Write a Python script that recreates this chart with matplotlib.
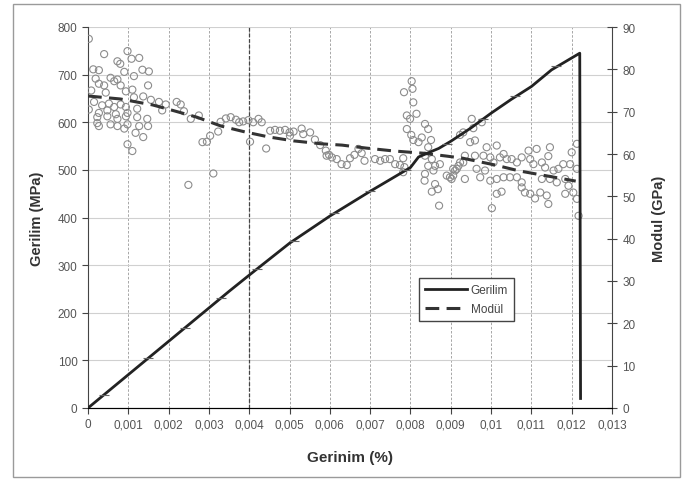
import numpy as np
import matplotlib.pyplot as plt
from matplotlib.ticker import FuncFormatter
from matplotlib.patches import Rectangle

plt.rcParams['font.family'] = ['Liberation Sans', 'DejaVu Sans']

# stress-strain curve (Gerilim, MPa)
strain = [0, 0.0005, 0.001, 0.0015, 0.002, 0.0025, 0.003, 0.0035, 0.004, 0.005,
          0.006, 0.007, 0.008, 0.0082, 0.0085, 0.0087, 0.009, 0.0095, 0.01,
          0.0105, 0.011, 0.0115, 0.0122, 0.01222]
stress = [0, 35, 70, 105, 140, 175, 210, 245, 279, 346,
          403, 455, 505, 527, 538, 545, 560, 588, 619,
          648, 675, 710, 745, 20]

# small bar marks sitting on the stress curve
mark_strain = [0.0004, 0.0015, 0.0024, 0.0033, 0.0042, 0.0051, 0.0061, 0.007,
               0.0079, 0.0089, 0.0098, 0.0106, 0.0116]
mark_stress = [28, 105, 168, 230, 292, 350, 410, 455, 500, 555, 607, 655, 718]

# fitted modulus line (Modül, GPa)
fit_strain = [0, 0.0008, 0.0016, 0.0021, 0.0027, 0.0033, 0.0039, 0.0045, 0.0051,
              0.0058, 0.0063, 0.0069, 0.0076, 0.0083, 0.0089, 0.0093, 0.0101,
              0.0107, 0.0114, 0.0121]
fit_mod = [73.7, 73.0, 71.6, 70.3, 68.7, 66.6, 65.2, 64.0, 63.1,
           62.4, 62.1, 61.4, 60.7, 60.2, 59.5, 59.0, 57.4,
           56.0, 54.8, 53.6]

# measured modulus points (GPa)
pt_strain = [
    0.00002, 0.0004, 0.00098, 0.00073, 0.0008, 0.00108, 0.00127, 0.00013, 0.00027,
    0.0009, 0.00135, 0.00151, 0.00114, 0.00019, 0.00056, 0.00065, 0.00073, 0.00027,
    0.0004, 0.00081, 0.00149, 0.00008, 0.00044, 0.00094, 0.0011, 0.00114, 0.00137,
    0.00156, 0.00176, 0.00193, 0.0022, 0.0023, 0.00015, 0.00035, 0.00052, 0.00065,
    0.00081, 0.00094, 0.00002, 0.00027, 0.00048, 0.00069, 0.00098, 0.00122, 0.00184,
    0.00238, 0.00023, 0.00048, 0.00073, 0.00094, 0.00122, 0.00147, 0.00255, 0.00275,
    0.00023, 0.00056, 0.00073, 0.00098, 0.00127, 0.00149, 0.00027, 0.0009, 0.00118,
    0.00137, 0.00098, 0.0011, 0.00249,
    0.00284, 0.00295, 0.00303, 0.00323, 0.00329, 0.00342, 0.00354, 0.00367, 0.00375,
    0.00385, 0.00398, 0.0041, 0.00423, 0.00431, 0.00402, 0.00311, 0.00442, 0.00452,
    0.00464, 0.00476, 0.00489, 0.005, 0.0051, 0.00501, 0.0053, 0.00534, 0.00551,
    0.00563, 0.00576, 0.0059, 0.00598,
    0.00592, 0.00605, 0.00617, 0.00629, 0.00642, 0.0065, 0.00661, 0.00671, 0.00679,
    0.00686, 0.00712, 0.00725, 0.00737, 0.00749, 0.00762, 0.00774, 0.00782, 0.00782,
    0.00785, 0.00784, 0.00803, 0.00805, 0.00807, 0.00791, 0.00799, 0.00815, 0.00791,
    0.00802, 0.00807, 0.0082, 0.00828, 0.00836, 0.00844, 0.00851, 0.00844, 0.00836,
    0.00853, 0.00861, 0.00844, 0.00836, 0.00857, 0.00835, 0.00861, 0.00853, 0.00868,
    0.00871, 0.00906, 0.00898, 0.00873, 0.0089, 0.00902, 0.00915, 0.00923,
    0.00952, 0.00977, 0.00956, 0.00931, 0.00923, 0.00948, 0.0096, 0.00989, 0.01014,
    0.00981, 0.0096, 0.00935, 0.00931, 0.00919, 0.00911, 0.00906, 0.00935, 0.00964,
    0.00985, 0.00973, 0.00998, 0.01006, 0.01022, 0.01031, 0.01039, 0.01051, 0.01064,
    0.01076, 0.01093, 0.01113, 0.01097, 0.01105, 0.01126, 0.01142, 0.01146, 0.01134,
    0.01155, 0.01167, 0.01179, 0.01196, 0.01213, 0.012, 0.01213,
    0.00998, 0.01014, 0.01031, 0.01047, 0.01064, 0.01076, 0.01014, 0.01026, 0.01002,
    0.01084, 0.01097, 0.01109, 0.01122, 0.01138, 0.01142, 0.01126, 0.01146, 0.01163,
    0.01184, 0.01192, 0.01204, 0.01213, 0.01217, 0.01184, 0.01076,
]
pt_mod = [
    87.2, 83.6, 84.3, 81.9, 81.3, 82.5, 82.7, 80.0, 79.8,
    79.4, 79.9, 79.5, 78.4, 77.8, 78.0, 77.2, 77.6, 76.6,
    76.2, 76.2, 76.2, 75.0, 74.5, 74.8, 75.2, 73.4, 73.6,
    72.8, 72.3, 71.7, 72.3, 71.7, 72.3, 71.5, 71.9, 71.1,
    71.7, 71.1, 70.5, 69.7, 70.3, 69.4, 69.7, 70.7, 70.3,
    70.1, 68.7, 68.9, 68.3, 68.9, 68.7, 68.3, 68.3, 69.1,
    67.3, 67.0, 66.6, 67.0, 66.6, 66.6, 66.6, 66.0, 65.0,
    64.0, 62.3, 60.7, 52.7,
    62.8, 62.9, 64.3, 65.3, 67.6, 68.4, 68.7, 68.1, 67.5,
    67.7, 68.0, 67.5, 68.3, 67.5, 62.9, 55.4, 61.3, 65.5,
    65.7, 65.5, 65.7, 65.1, 65.3, 64.3, 66.0, 64.7, 65.1,
    63.4, 62.1, 60.8, 59.8,
    59.6, 59.2, 58.8, 57.6, 57.4, 59.0, 59.8, 61.2, 60.2,
    58.4, 58.8, 58.4, 58.8, 58.8, 57.6, 57.4, 59.0, 55.7,
    56.9, 74.6, 77.2, 75.4, 72.2, 69.1, 68.3, 69.5, 65.9,
    64.5, 63.3, 62.8, 63.9, 67.1, 65.9, 63.3, 61.6, 59.6,
    58.8, 57.2, 57.2, 55.3, 56.1, 53.7, 52.9, 51.1, 51.7,
    47.8, 56.5, 54.5, 57.6, 54.9, 54.1, 56.5, 58.0,
    68.3, 67.5, 66.1, 65.1, 64.5, 62.8, 63.2, 61.6, 62.0,
    59.6, 59.6, 59.6, 58.0, 57.2, 56.1, 54.9, 54.1, 56.5,
    56.1, 54.5, 59.2, 58.0, 59.2, 60.0, 58.8, 58.8, 58.0,
    59.2, 60.8, 61.2, 58.8, 57.6, 58.0, 59.5, 61.6, 56.8,
    56.1, 56.5, 57.6, 57.6, 56.5, 60.4, 62.4,
    53.7, 54.1, 54.5, 54.5, 54.5, 53.3, 50.6, 51.1, 47.2,
    50.9, 50.6, 49.5, 50.9, 50.2, 48.2, 54.1, 54.1, 53.3,
    54.1, 52.5, 50.9, 49.4, 45.4, 50.6, 52.1,
]

x_ticks = np.arange(0, 14) / 1000
stress_ticks = np.arange(0, 801, 100)
mod_ticks = np.arange(0, 91, 10)

tick_color = '#555555'
label_color = '#333333'


def comma(v, pos):
    return f'{v:g}'.replace('.', ',')


fig = plt.figure(figsize=(6.84, 4.81), dpi=100)
ax = fig.add_axes([88 / 684, 72 / 481, 524 / 684, 381 / 481])
ax2 = ax.twinx()

# frame around the whole chart
fig.patches.append(Rectangle((13 / 684, 3 / 481), 667 / 684, 473 / 481,
                             transform=fig.transFigure, fill=False,
                             edgecolor='#9a9a9a', linewidth=1.0))

ax.set_xlim(0, 0.013)
ax.set_ylim(0, 800)
ax2.set_ylim(0, 90)
ax.set_xticks(x_ticks)
ax.set_yticks(stress_ticks)
ax2.set_yticks(mod_ticks)
ax.xaxis.set_major_formatter(FuncFormatter(comma))

ax.grid(axis='y', color='#d0d0d0', linewidth=0.8)
ax.grid(axis='x', color='#999999', linewidth=0.6, linestyle=(0, (3, 2)))
ax.axvline(0.004, color='#444444', linewidth=0.9, linestyle=(0, (3, 1.5)), zorder=1)
ax.set_axisbelow(True)

for a in (ax, ax2):
    a.spines['top'].set_visible(False)
ax.spines['right'].set_visible(False)
ax2.spines['left'].set_visible(False)
for s in ('left', 'bottom'):
    ax.spines[s].set_color('#444444')
ax2.spines['right'].set_color('#444444')

ax.tick_params(axis='both', direction='out', length=4, width=0.8, color='#444444',
               labelsize=8.5, labelcolor=tick_color)
ax2.tick_params(axis='y', direction='inout', length=7, width=0.8, color='#444444',
                labelsize=8.5, labelcolor=tick_color, pad=4)

ax2.scatter(pt_strain, pt_mod, s=26, facecolors='none', edgecolors='#8c8c8c',
            linewidths=0.8, zorder=2)
l2, = ax2.plot(fit_strain, fit_mod, color='#333333', linewidth=2.2,
               linestyle=(0, (4.5, 2.4)), zorder=3, label='Modül')
l1, = ax2.plot([], [], color='#222222', linewidth=2.0, label='Gerilim')

# stress curve drawn on the secondary axes in MPa coordinates via ax transform
ax2.plot(strain, stress, color='#222222', linewidth=2.0, zorder=4,
         transform=ax.transData)
ax2.plot(mark_strain, mark_stress, linestyle='none', marker='_', markersize=7,
         markeredgewidth=0.8, color='#666666', zorder=5, transform=ax.transData)

ax.set_xlabel('Gerinim (%)', fontsize=11, fontweight='bold', color=label_color,
              labelpad=14)
ax.set_ylabel('Gerilim (MPa)', fontsize=10.5, fontweight='bold', color=label_color,
              labelpad=10)
ax2.set_ylabel('Modul (GPa)', fontsize=10.5, fontweight='bold', color=label_color,
               labelpad=12)

leg = ax2.legend(handles=[l1, l2], loc='upper left', bbox_to_anchor=(0.62, 0.357),
                 fontsize=8.5, handlelength=3.6, handletextpad=0.3,
                 borderpad=0.5, labelspacing=0.6, fancybox=False,
                 framealpha=1, edgecolor='#444444')
leg.get_frame().set_linewidth(1.0)
for t in leg.get_texts():
    t.set_color('#444444')

fig.savefig('out.png', dpi=100)
